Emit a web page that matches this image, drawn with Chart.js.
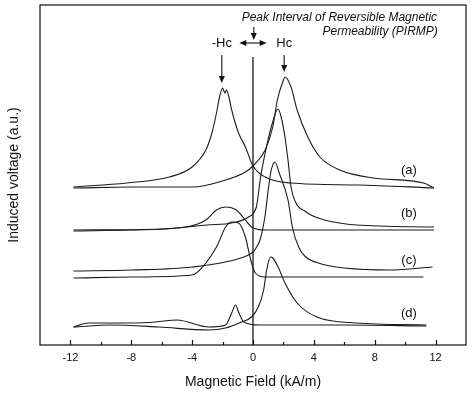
<!DOCTYPE html>
<html lang="en">
<head>
<meta charset="UTF-8">
<title>Induced voltage vs magnetic field</title>
<script src="https://cdn.jsdelivr.net/npm/chart.js"></script>
<style>
  html, body { margin: 0; padding: 0; background: #fff; }
</style>
</head>
<body>
<canvas id="hcChart" width="472" height="394"></canvas>
<script>
// Magnetic field (kA/m) and induced voltage (a.u., offset per trace).
// Each trace has two sweep branches: one peaking at -Hc, one at +Hc.
const aLeftH  = [-11.8, -8.3, -5.5, -4, -3.1, -2.7, -2.4, -2.2, -2.0, -1.85, -1.75, -1.6, -1.4, -0.95, -0.5, 0, 0.8, 2.5, 6.9, 11.9];
const aLeftV  = [158, 162, 168, 178, 195, 212, 232, 248, 257, 252, 255, 249, 235, 212, 198, 179, 168, 162, 160, 157];
const aRightH = [-11.8, -8, -4, -1.8, -0.5, 0, 0.8, 1.3, 1.6, 2.0, 2.1, 2.5, 2.9, 3.6, 4.4, 5.7, 7.9, 11.2, 11.9];
const aRightV = [157, 158, 158, 165, 173, 179, 195, 218, 245, 265, 268, 258, 235, 208, 188, 175, 167, 162, 157];

const bLeftH  = [-11.8, -8, -4.4, -3.1, -2.4, -1.8, -1.1, -0.5, -0.1, 0.8, 6, 11.9];
const bLeftV  = [114, 115, 118, 125, 135, 138, 135, 125, 118, 115, 115, 115];
const bRightH = [-11.8, -6, -3, -1.4, -0.3, 0.2, 0.3, 0.5, 0.8, 1.2, 1.65, 1.85, 2.1, 2.3, 2.5, 2.9, 3.4, 3.8, 4.7, 6.8, 11.9];
const bRightV = [115, 116, 120, 122, 128, 137, 145, 168, 192, 218, 236, 228, 208, 185, 158, 140, 134, 130, 125, 120, 118];

const cLeftH  = [-11.8, -8, -4, -3.1, -2.4, -1.8, -1.4, -0.95, -0.5, -0.15, 0.15, 0.8, 11.2];
const cLeftV  = [67, 68, 70, 82, 98, 118, 123, 122, 108, 85, 72, 68, 68];
const cRightH = [-11.8, -8, -4, -0.8, 0, 0.2, 0.5, 0.8, 1.0, 1.2, 1.45, 1.7, 2.3, 2.6, 3.0, 3.4, 4.5, 6, 9, 11.8];
const cRightV = [74, 75, 78, 87, 93, 97, 107, 130, 155, 175, 183, 173, 145, 117, 98, 89, 81, 77, 75, 78];

const dLeftH  = [-11.8, -10.8, -8, -6.4, -5.0, -2.9, -1.8, -1.4, -1.15, -0.95, -0.6, 0.4, 6, 11.4];
const dLeftV  = [18, 22, 22, 23, 25, 18, 20, 32, 40, 33, 23, 20, 20, 19];
const dRightH = [-11.8, -9.4, -6.2, -2.9, -1.8, -0.75, -0.1, 0.35, 0.7, 0.9, 1.15, 1.3, 1.65, 2.1, 2.9, 4.2, 6.8, 11.4];
const dRightV = [18, 20, 18, 15, 17, 23, 28, 38, 55, 75, 88, 87, 78, 62, 42, 28, 22, 20];

// zero-field marker line
const zeroLineH = [0, 0];
const zeroLineV = [0, 288];

// trace labels
const traceNames  = ['(a)', '(b)', '(c)', '(d)'];
const traceLabelH = [10.25, 10.25, 10.25, 10.25];
const traceLabelV = [175, 132, 85, 32];

// coercive field annotations
const hcLabels = ['-Hc', 'Hc'];
const hcLabelH = [-2.05, 2.05];
const hcArrowTop = [290, 290];
const hcArrowTip = [262, 273];

const pts = (xs, ys) => xs.map((x, i) => ({ x: x, y: ys[i] }));

const lineStyle = {
  showLine: true,
  borderColor: '#1b1b1b',
  borderWidth: 1.1,
  pointRadius: 0,
  cubicInterpolationMode: 'monotone',
  fill: false
};

const traces = [
  pts(aLeftH, aLeftV), pts(aRightH, aRightV),
  pts(bLeftH, bLeftV), pts(bRightH, bRightV),
  pts(cLeftH, cLeftV), pts(cRightH, cRightV),
  pts(dLeftH, dLeftV), pts(dRightH, dRightV)
];

const datasets = traces.map(d => Object.assign({ data: d }, lineStyle));
datasets.push(Object.assign({}, lineStyle, { data: pts(zeroLineH, zeroLineV), borderWidth: 1.3, cubicInterpolationMode: 'default' }));

const FONT = '"Liberation Sans", Arial, sans-serif';

function arrow(ctx, x1, y1, x2, y2) {
  const ang = Math.atan2(y2 - y1, x2 - x1);
  const len = 7, half = 3;
  ctx.beginPath();
  ctx.moveTo(x1, y1);
  ctx.lineTo(x2 - Math.cos(ang) * len * 0.6, y2 - Math.sin(ang) * len * 0.6);
  ctx.stroke();
  ctx.beginPath();
  ctx.moveTo(x2, y2);
  ctx.lineTo(x2 - Math.cos(ang) * len - Math.sin(ang) * half, y2 - Math.sin(ang) * len + Math.cos(ang) * half);
  ctx.lineTo(x2 - Math.cos(ang) * len + Math.sin(ang) * half, y2 - Math.sin(ang) * len - Math.cos(ang) * half);
  ctx.closePath();
  ctx.fill();
}

const figureMarks = {
  id: 'figureMarks',
  afterDatasetsDraw(chart) {
    const { ctx, chartArea: ca, scales: { x, y } } = chart;
    ctx.save();
    ctx.strokeStyle = '#111';
    ctx.fillStyle = '#111';
    ctx.lineWidth = 1.2;
    ctx.strokeRect(ca.left, ca.top, ca.right - ca.left, ca.bottom - ca.top);

    // inward tick marks on the field axis
    ctx.beginPath();
    for (let v = -12; v <= 12; v += 2) {
      const px = Math.round(x.getPixelForValue(v)) + 0.5;
      const len = v % 4 === 0 ? 5 : 3;
      ctx.moveTo(px, ca.bottom);
      ctx.lineTo(px, ca.bottom - len);
    }
    ctx.stroke();

    // trace labels
    ctx.font = '13px ' + FONT;
    ctx.textAlign = 'center';
    ctx.textBaseline = 'middle';
    traceNames.forEach((t, i) => {
      ctx.fillText(t, x.getPixelForValue(traceLabelH[i]), y.getPixelForValue(traceLabelV[i]));
    });

    // Hc labels and arrows
    ctx.lineWidth = 1.1;
    hcLabels.forEach((t, i) => {
      const px = x.getPixelForValue(hcLabelH[i]);
      ctx.fillText(t, px, y.getPixelForValue(302));
      arrow(ctx, px, y.getPixelForValue(hcArrowTop[i]), px, y.getPixelForValue(hcArrowTip[i]));
    });

    // peak interval double arrow and pointer
    const yMid = y.getPixelForValue(302);
    const xl = x.getPixelForValue(-0.9), xr = x.getPixelForValue(0.9), x0 = x.getPixelForValue(0.05);
    arrow(ctx, (xl + xr) / 2, yMid, xl, yMid);
    arrow(ctx, (xl + xr) / 2, yMid, xr, yMid);
    arrow(ctx, x0, y.getPixelForValue(318), x0, y.getPixelForValue(305));

    ctx.font = 'italic 12px ' + FONT;
    ctx.textAlign = 'right';
    ctx.fillText('Peak Interval of Reversible Magnetic', x.getPixelForValue(12.1), y.getPixelForValue(327));
    ctx.fillText('Permeability (PIRMP)', x.getPixelForValue(12.15), y.getPixelForValue(313));
    ctx.restore();
  }
};

new Chart(document.getElementById('hcChart').getContext('2d'), {
  type: 'scatter',
  data: { datasets: datasets },
  options: {
    responsive: false,
    animation: false,
    layout: { padding: { top: 5, right: 2, left: 0, bottom: 0 } },
    plugins: { legend: { display: false }, tooltip: { enabled: false } },
    scales: {
      x: {
        type: 'linear',
        min: -14,
        max: 14,
        grid: { display: false, drawTicks: false },
        border: { display: false },
        ticks: {
          stepSize: 2,
          autoSkip: false,
          maxRotation: 0,
          padding: 6,
          color: '#111',
          font: { size: 11, family: FONT },
          callback: v => (v % 4 === 0 && Math.abs(v) <= 12) ? String(v) : ''
        },
        title: {
          display: true,
          text: 'Magnetic Field (kA/m)',
          color: '#111',
          font: { size: 14, family: FONT },
          padding: { top: 0, bottom: 3 }
        },
        afterFit: s => { s.height = 49; }
      },
      y: {
        min: 0,
        max: 340,
        grid: { display: false, drawTicks: false },
        border: { display: false },
        ticks: { display: false },
        title: {
          display: true,
          text: 'Induced voltage (a.u.)',
          color: '#111',
          font: { size: 14, family: FONT },
          padding: { top: 6, bottom: 0 }
        },
        afterFit: s => { s.width = 40; }
      }
    }
  },
  plugins: [figureMarks]
});
</script>
</body>
</html>
